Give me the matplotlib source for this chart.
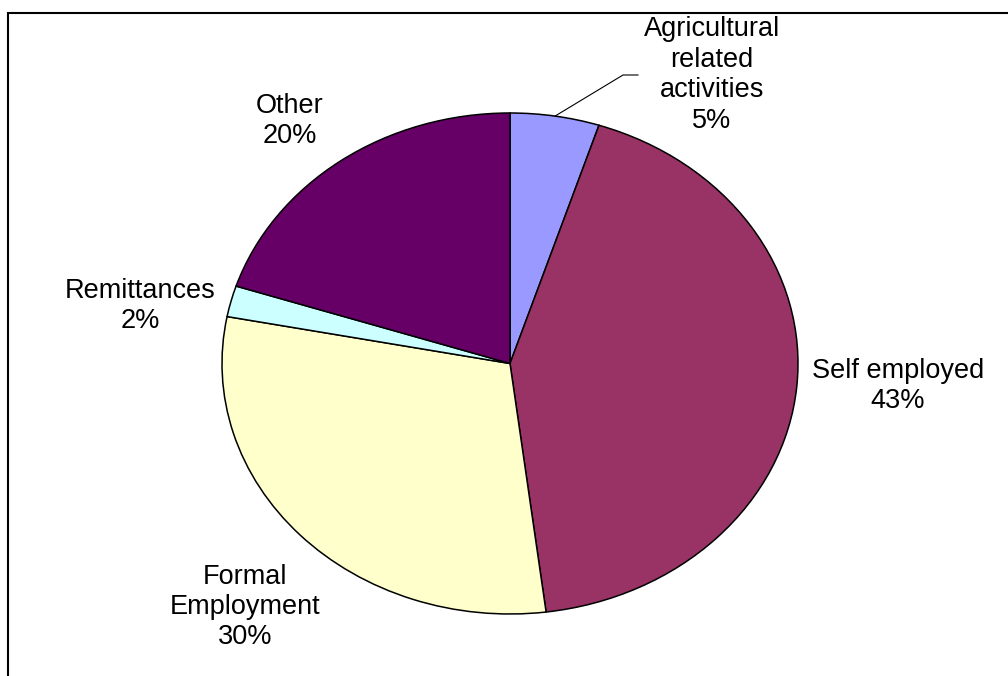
import matplotlib.pyplot as plt
import numpy as np
from matplotlib.patches import Rectangle

plt.rcParams['font.family'] = ['Liberation Sans', 'DejaVu Sans']

# income sources, clockwise from 12 o'clock
labels = ["Agricultural\nrelated\nactivities", "Self employed", "Formal\nEmployment",
          "Remittances", "Other"]
shares = [5, 43, 30, 2, 20]
colors = ["#9999FF", "#993366", "#FFFFCC", "#CCFFFF", "#660066"]

W, H = 1008, 676
fig = plt.figure(figsize=(W / 100, H / 100), dpi=100)

# pie is drawn stretched (wider than tall), so give it a non-square axes
px = lambda x0, y0, w, h: [x0 / W, 1 - (y0 + h) / H, w / W, h / H]
ax = fig.add_axes(px(222, 113, 576, 501))
wedges, _ = ax.pie(shares, colors=colors, startangle=90, counterclock=False,
                   wedgeprops=dict(edgecolor="black", linewidth=1.1))
ax.set_aspect("auto")
ax.set_xlim(-1, 1)
ax.set_ylim(-1, 1)
ax.axis("off")

# text centres in pixels (x, y from top)
label_pos = [(712, 75), (898, 386), (245, 607), (140, 306), (290, 121)]
for lab, val, (x, y) in zip(labels, shares, label_pos):
    fig.text(x / W, 1 - y / H, f"{lab}\n{val}%", ha="center", va="center",
             fontsize=19.5, linespacing=1.22)

# leader line for the small agricultural slice
w = wedges[0]
mid = np.deg2rad((w.theta1 + w.theta2) / 2)
start = ax.transData.transform((np.cos(mid), np.sin(mid)))
pts = np.array([start, (623, H - 75), (638, H - 75)])
fig.add_artist(plt.Line2D(pts[:, 0] / W, pts[:, 1] / H, color="black",
                          linewidth=0.8, transform=fig.transFigure))

# outer border (runs off the right and bottom edges)
fig.patches.append(Rectangle((8 / W, -0.05), 1.1, 1 - 13 / H + 0.05,
                             transform=fig.transFigure, fill=False,
                             edgecolor="black", linewidth=1.5))

fig.savefig("out.png", dpi=100)
